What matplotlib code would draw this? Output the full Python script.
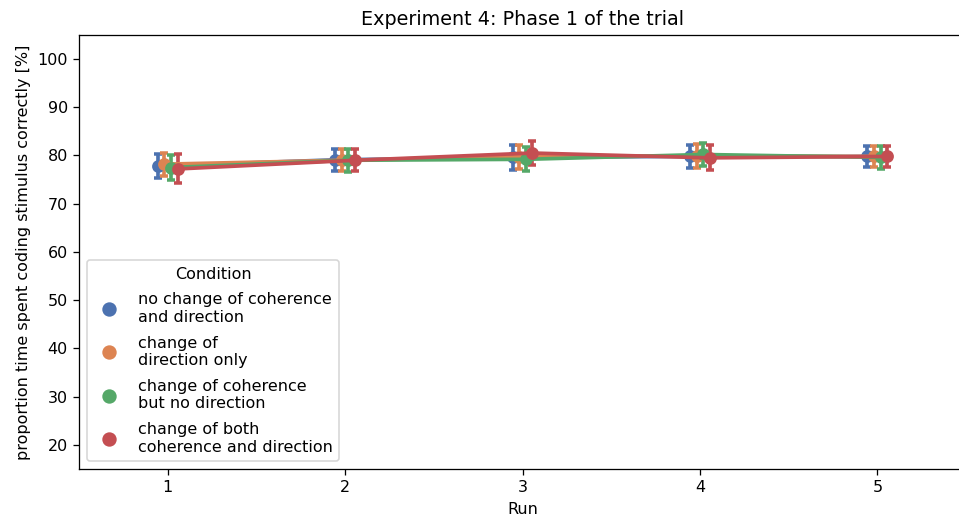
import numpy as np
import matplotlib.pyplot as plt

runs = [1, 2, 3, 4, 5]
conditions = ["no change of coherence\nand direction",
              "change of\ndirection only",
              "change of coherence\nbut no direction",
              "change of both\ncoherence and direction"]
colors = ["#4c72b0", "#dd8452", "#55a868", "#c44e52"]

means = [
    [77.8, 79.1, 79.6, 79.8, 79.8],
    [78.2, 79.0, 79.7, 79.9, 79.8],
    [77.5, 79.0, 79.2, 80.2, 79.6],
    [77.2, 79.0, 80.5, 79.5, 79.8],
]
cis = [
    [2.5, 2.3, 2.6, 2.4, 2.2],
    [2.4, 2.3, 2.5, 2.4, 2.2],
    [2.6, 2.4, 2.5, 2.3, 2.4],
    [3.0, 2.3, 2.4, 2.6, 2.2],
]

dpi = 115
fig = plt.figure(figsize=(959 / dpi, 520 / dpi), dpi=dpi)
ax = fig.add_axes([0.0824, 0.098, 0.925, 0.835])

offsets = np.linspace(-0.056, 0.056, len(conditions))
for i, lab in enumerate(conditions):
    x = np.array(runs) + offsets[i]
    ax.errorbar(x, means[i], yerr=cis[i], color=colors[i], lw=2.3,
                capsize=2.6, capthick=2.2, elinewidth=2.3,
                marker="o", ms=7, label=lab)

ax.set_xlim(0.5, 5.5)
ax.set_ylim(15, 105)
ax.set_xticks(runs)
ax.set_yticks(range(20, 101, 10))
ax.set_xlabel("Run")
ax.set_ylabel("proportion time spent coding stimulus correctly [%]")
ax.set_title("Experiment 4: Phase 1 of the trial")

handles = [plt.Line2D([], [], ls="", marker="o", ms=8, color=c) for c in colors]
ax.legend(handles, conditions, title="Condition", loc="lower left",
          labelspacing=0.68)

fig.savefig("out.png", dpi=dpi)
